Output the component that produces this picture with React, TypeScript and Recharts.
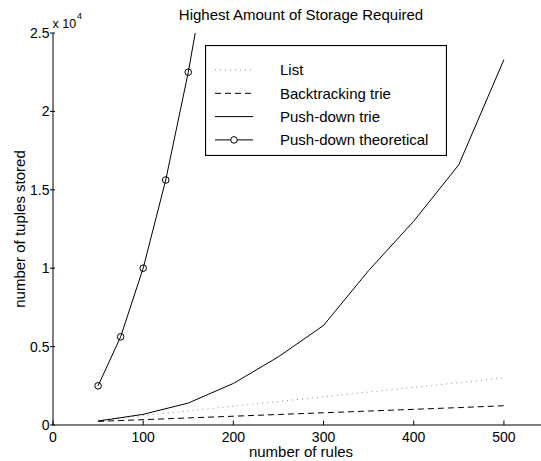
import React from 'react';
import { LineChart, Line, XAxis, YAxis, Legend, Customized } from 'recharts';

const ruleCounts = [50, 100, 150, 200, 250, 300, 350, 400, 450, 500];
const listValues = [300, 600, 900, 1200, 1500, 1800, 2100, 2400, 2700, 3000];
const backtrackingValues = [230, 340, 450, 560, 670, 780, 890, 1000, 1110, 1230];
const pushDownValues = [250, 680, 1400, 2650, 4350, 6350, 9850, 13000, 16600, 23300];
const theoreticalRules = [50, 75, 100, 125, 150, 175];
const theoreticalValues = [2500, 5625, 10000, 15625, 22500, 30625];
const xTicks = [0, 100, 200, 300, 400, 500];
const yTicks = [0, 5000, 10000, 15000, 20000, 25000];
const yTickLabels = ['0', '0.5', '1', '1.5', '2', '2.5'];

const listData = ruleCounts.map((x, i) => ({ x, y: listValues[i] }));
const backtrackingData = ruleCounts.map((x, i) => ({ x, y: backtrackingValues[i] }));
const pushDownData = ruleCounts.map((x, i) => ({ x, y: pushDownValues[i] }));
const theoreticalData = theoreticalRules.map((x, i) => ({ x, y: theoreticalValues[i] }));

const FONT = '"Liberation Sans", Arial, Helvetica, sans-serif';
const Y_MAX = 25000;

const BottomTick = (props: any) => {
  const { x, y, payload } = props;
  return (
    <g>
      <line x1={x} y1={y} x2={x} y2={y - 4.5} stroke="#000" strokeWidth={1} />
      <text x={x} y={y + 16.5} textAnchor="middle" fontSize={14} fontFamily={FONT} fill="#000">
        {payload.value}
      </text>
    </g>
  );
};

const TopTick = (props: any) => {
  const { x, y } = props;
  return <line x1={x} y1={y} x2={x} y2={y + 5} stroke="#000" strokeWidth={1} />;
};

const LeftTick = (props: any) => {
  const { x, y, payload } = props;
  const idx = yTicks.indexOf(payload.value);
  return (
    <g>
      <line x1={x - 3} y1={y} x2={x + 2} y2={y} stroke="#000" strokeWidth={1} />
      <text x={x - 3.5} y={y} dy={5} textAnchor="end" fontSize={14} fontFamily={FONT} fill="#000">
        {idx >= 0 ? yTickLabels[idx] : ''}
      </text>
    </g>
  );
};

const renderDot = (props: any) => {
  const { cx, cy, value, index } = props;
  if (value > Y_MAX || cx == null || cy == null) return <g key={`d${index}`} />;
  return <circle key={`d${index}`} cx={cx} cy={cy} r={3.3} fill="none" stroke="#000" strokeWidth={1} />;
};

const legendItems = [
  { name: 'List', stroke: '#8c8c8c', dash: '1 4', dot: false },
  { name: 'Backtracking trie', stroke: '#000', dash: '6 4', dot: false },
  { name: 'Push-down trie', stroke: '#000', dash: undefined, dot: false },
  { name: 'Push-down theoretical', stroke: '#000', dash: undefined, dot: true },
];

const LegendBox = () => (
  <svg width={242} height={111} style={{ display: 'block' }}>
    <rect x={0.5} y={0.5} width={241} height={110} fill="#fff" stroke="#000" strokeWidth={1.2} />
    {legendItems.map((it, i) => {
      const cy = 25 + i * 23.3;
      return (
        <g key={it.name}>
          <line x1={10} y1={cy} x2={48} y2={cy} stroke={it.stroke} strokeWidth={1} strokeDasharray={it.dash} />
          {it.dot && <circle cx={29} cy={cy} r={3.3} fill="#fff" stroke="#000" strokeWidth={1} />}
          <text x={75} y={cy} dy={5.3} fontSize={15} fontFamily={FONT} fill="#000">
            {it.name}
          </text>
        </g>
      );
    })}
  </svg>
);

const Labels = () => (
  <g fontFamily={FONT} fill="#000">
    <text x={301} y={19.5} textAnchor="middle" fontSize={15}>
      Highest Amount of Storage Required
    </text>
    <text x={52.5} y={28.3} fontSize={12.5}>
      x 10
    </text>
    <text x={77} y={18.5} fontSize={9}>
      4
    </text>
    <text x={301} y={457} textAnchor="middle" fontSize={15}>
      number of rules
    </text>
    <text
      x={19.5}
      y={229}
      transform="rotate(-90, 19.5, 229)"
      textAnchor="middle"
      dominantBaseline="central"
      fontSize={15}
    >
      number of tuples stored
    </text>
  </g>
);

export default function App() {
  return (
    <div
      style={{
        position: 'absolute',
        left: 0,
        top: 0,
        width: 541,
        height: 461,
        overflow: 'hidden',
        background: '#fff',
      }}
    >
      <LineChart width={560} height={461} margin={{ top: 33, right: 11, bottom: 0, left: 0 }}>
        <XAxis
          xAxisId="bottom"
          type="number"
          dataKey="x"
          domain={[0, 550]}
          ticks={xTicks}
          orientation="bottom"
          height={36}
          tickSize={0}
          tickMargin={0}
          tick={<BottomTick />}
          axisLine={{ stroke: '#000', strokeWidth: 1 }}
          tickLine={false}
          allowDataOverflow
        />
        <XAxis
          xAxisId="top"
          type="number"
          dataKey="x"
          domain={[0, 550]}
          ticks={xTicks}
          orientation="top"
          height={0}
          tickSize={0}
          tickMargin={0}
          tick={<TopTick />}
          axisLine={{ stroke: '#000', strokeWidth: 1 }}
          tickLine={false}
          allowDataOverflow
        />
        <YAxis
          type="number"
          domain={[0, Y_MAX]}
          ticks={yTicks}
          width={53}
          tickSize={0}
          tickMargin={0}
          tick={<LeftTick />}
          axisLine={{ stroke: '#000', strokeWidth: 1 }}
          tickLine={false}
          allowDataOverflow
        />
        <Line
          xAxisId="bottom"
          data={listData}
          dataKey="y"
          stroke="#8c8c8c"
          strokeWidth={1}
          strokeDasharray="1 4"
          dot={false}
          activeDot={false}
          isAnimationActive={false}
          type="linear"
        />
        <Line
          xAxisId="bottom"
          data={backtrackingData}
          dataKey="y"
          stroke="#000"
          strokeWidth={1}
          strokeDasharray="6 4"
          dot={false}
          activeDot={false}
          isAnimationActive={false}
          type="linear"
        />
        <Line
          xAxisId="bottom"
          data={pushDownData}
          dataKey="y"
          stroke="#000"
          strokeWidth={1}
          dot={false}
          activeDot={false}
          isAnimationActive={false}
          type="linear"
        />
        <Line
          xAxisId="bottom"
          data={theoreticalData}
          dataKey="y"
          stroke="#000"
          strokeWidth={1}
          dot={renderDot}
          activeDot={false}
          isAnimationActive={false}
          type="linear"
        />
        <Legend
          layout="horizontal"
          verticalAlign="middle"
          align="center"
          wrapperStyle={{ position: 'absolute', left: 205, top: 45, width: 242, height: 111 }}
          content={() => <LegendBox />}
        />
        <Customized component={Labels} />
      </LineChart>
    </div>
  );
}
